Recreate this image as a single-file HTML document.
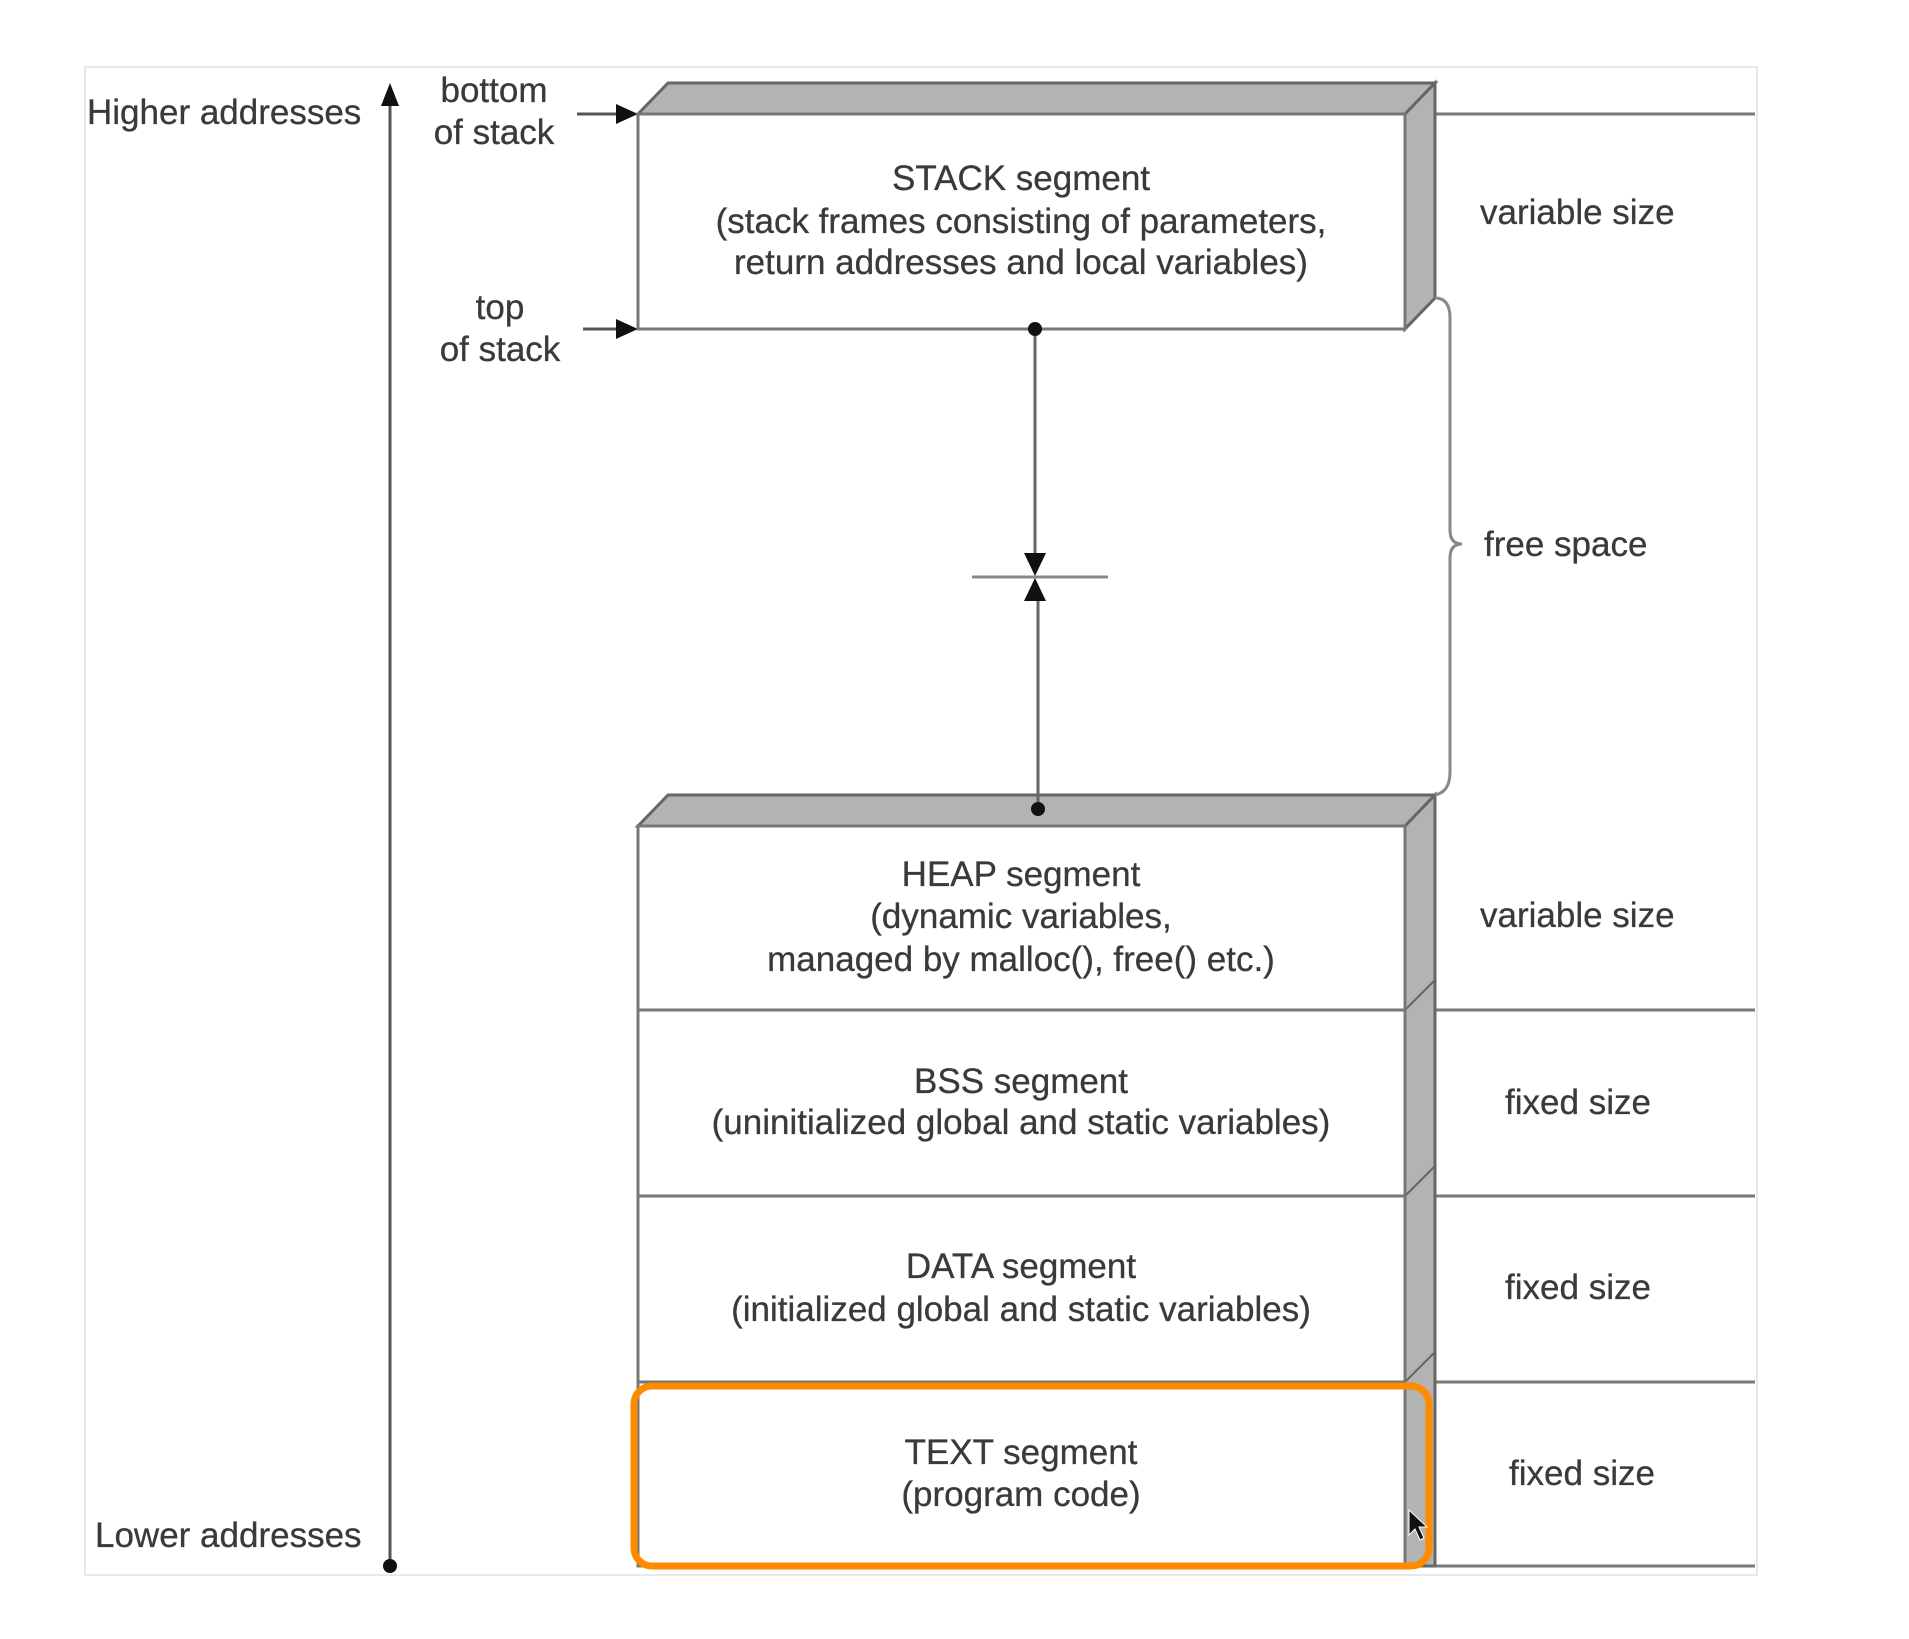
<!DOCTYPE html>
<html><head><meta charset="utf-8"><style>
html,body{margin:0;padding:0;background:#fff;}
svg{display:block;}
text{font-family:"Liberation Sans",Arial,sans-serif;fill:#3a3a3a;font-size:35px;letter-spacing:0px;stroke:#3a3a3a;stroke-width:0.3px;}
</style></head><body>
<svg width="1909" height="1639" viewBox="0 0 1909 1639" xmlns="http://www.w3.org/2000/svg">
<rect x="85" y="67" width="1672" height="1508" fill="none" stroke="#e8e8e8" stroke-width="2"/>
<line x1="390" y1="100" x2="390" y2="1566" stroke="#555" stroke-width="3"/>
<polygon points="390,83 381,106 399,106" fill="#111"/>
<circle cx="390" cy="1566" r="7" fill="#111"/>
<text x="87" y="124">Higher addresses</text>
<text x="95" y="1547">Lower addresses</text>
<text x="494" y="102" text-anchor="middle">bottom</text>
<text x="494" y="144" text-anchor="middle">of stack</text>
<text x="500" y="319" text-anchor="middle">top</text>
<text x="500" y="361" text-anchor="middle">of stack</text>
<line x1="577" y1="114" x2="625" y2="114" stroke="#555" stroke-width="3"/>
<polygon points="638,114 616,104 616,124" fill="#111"/>
<line x1="583" y1="329" x2="625" y2="329" stroke="#555" stroke-width="3"/>
<polygon points="638,329 616,319 616,339" fill="#111"/>
<g stroke="#777" stroke-width="3">
<line x1="1435" y1="114" x2="1755" y2="114"/>
<line x1="1435" y1="1010" x2="1755" y2="1010"/>
<line x1="1435" y1="1196" x2="1755" y2="1196"/>
<line x1="1435" y1="1382" x2="1755" y2="1382"/>
<line x1="1435" y1="1566" x2="1755" y2="1566"/>
</g>
<polygon points="638,114 668,83 1435,83 1405,114" fill="#b3b3b3" stroke="#666" stroke-width="3"/>
<polygon points="1405,114 1435,83 1435,298 1405,329" fill="#b3b3b3" stroke="#666" stroke-width="3"/>
<rect x="638" y="114" width="767" height="215" fill="#fff" stroke="#777" stroke-width="3"/>
<text x="1021" y="190" text-anchor="middle">STACK segment</text>
<text x="1021" y="233" text-anchor="middle">(stack frames consisting of parameters,</text>
<text x="1021" y="274" text-anchor="middle">return addresses and local variables)</text>
<text x="1480" y="224">variable size</text>
<polygon points="638,826 668,795 1435,795 1405,826" fill="#b3b3b3" stroke="#666" stroke-width="3"/>
<polygon points="1405,826 1435,795 1435,1566 1405,1566" fill="#b3b3b3" stroke="#666" stroke-width="3"/>
<g stroke="#666" stroke-width="2">
<line x1="1405" y1="1010" x2="1435" y2="980"/>
<line x1="1405" y1="1196" x2="1435" y2="1166"/>
<line x1="1405" y1="1382" x2="1435" y2="1352"/>
</g>
<rect x="638" y="826" width="767" height="740" fill="#fff" stroke="#777" stroke-width="3"/>
<g stroke="#777" stroke-width="3">
<line x1="638" y1="1010" x2="1405" y2="1010"/>
<line x1="638" y1="1196" x2="1405" y2="1196"/>
<line x1="638" y1="1382" x2="1405" y2="1382"/>
</g>
<text x="1021" y="886" text-anchor="middle">HEAP segment</text>
<text x="1021" y="928" text-anchor="middle">(dynamic variables,</text>
<text x="1021" y="971" text-anchor="middle">managed by malloc(), free() etc.)</text>
<text x="1021" y="1093" text-anchor="middle">BSS segment</text>
<text x="1021" y="1134" text-anchor="middle">(uninitialized global and static variables)</text>
<text x="1021" y="1278" text-anchor="middle">DATA segment</text>
<text x="1021" y="1321" text-anchor="middle">(initialized global and static variables)</text>
<text x="1021" y="1464" text-anchor="middle">TEXT segment</text>
<text x="1021" y="1506" text-anchor="middle">(program code)</text>
<text x="1480" y="927">variable size</text>
<text x="1578" y="1114" text-anchor="middle">fixed size</text>
<text x="1578" y="1299" text-anchor="middle">fixed size</text>
<text x="1582" y="1485" text-anchor="middle">fixed size</text>
<line x1="1035" y1="329" x2="1035" y2="560" stroke="#666" stroke-width="3"/>
<line x1="1038" y1="594" x2="1038" y2="809" stroke="#666" stroke-width="3"/>
<circle cx="1035" cy="329" r="7" fill="#111"/>
<circle cx="1038" cy="809" r="7" fill="#111"/>
<line x1="972" y1="577" x2="1108" y2="577" stroke="#888" stroke-width="3"/>
<polygon points="1024,553 1046,553 1035,576" fill="#111"/>
<polygon points="1035,578 1046,601 1024,601" fill="#111"/>
<path d="M1435,298 Q1450,298 1450,318 L1450,530 Q1450,544 1462,544 Q1450,544 1450,558 L1450,772 Q1450,792 1435,795" fill="none" stroke="#888" stroke-width="3"/>
<text x="1484" y="556">free space</text>
<rect x="634" y="1386" width="795" height="180" rx="18" fill="none" stroke="#ff8a00" stroke-width="7"/>
<polygon points="1409,1510 1409,1535 1415,1529 1420,1540 1424,1538 1419,1527 1427,1527" fill="#111" stroke="#fff" stroke-width="1"/>
</svg>
</body></html>
